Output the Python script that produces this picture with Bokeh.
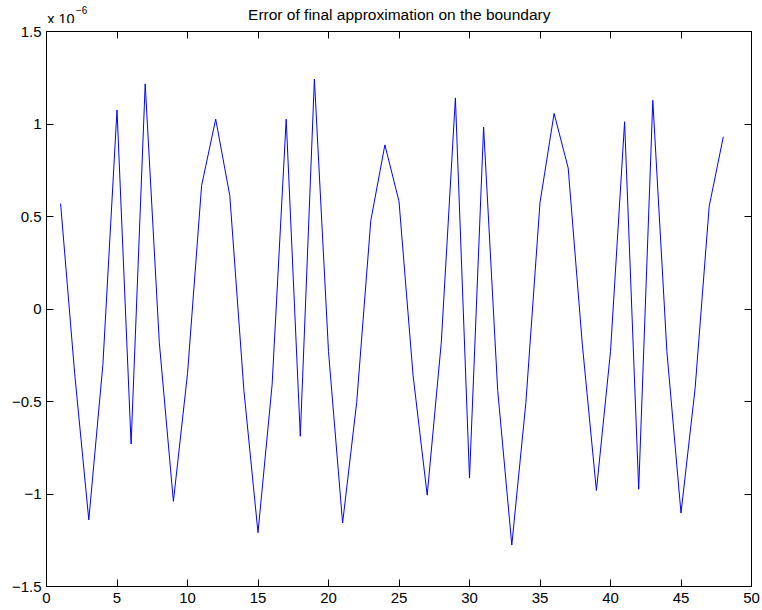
from bokeh.plotting import figure
from bokeh.layouts import column
from bokeh.models import Range1d, FixedTicker, LinearAxis, Label, CustomJSTickFormatter
from bokeh.embed import file_html
from bokeh.resources import INLINE

# Boundary point index
idx = list(range(1, 49))
# Error values, in units of 1e-6
err = [0.57, -0.35, -1.14, -0.30, 1.076, -0.73, 1.217, -0.18, -1.04, -0.35,
       0.667, 1.026, 0.613, -0.44, -1.209, -0.41, 1.026, -0.688, 1.243, -0.23,
       -1.157, -0.505, 0.478, 0.887, 0.582, -0.36, -1.006, -0.18, 1.141, -0.914,
       0.983, -0.44, -1.276, -0.505, 0.575, 1.057, 0.762, -0.19, -0.981, -0.23,
       1.012, -0.974, 1.128, -0.23, -1.103, -0.43, 0.555, 0.931]

x_ticks = [0, 5, 10, 15, 20, 25, 30, 35, 40, 45, 50]
y_ticks = [-1.5, -1.0, -0.5, 0.0, 0.5, 1.0, 1.5]

title_text = "Error of final approximation on the boundary"
scale_text = "x 10"
scale_exp = "\u22126"
FONT = "Liberation Sans"

W = 762
HEAD_H = 23
MAIN_H = 587

# ---- header strip holding the title and the axis multiplier ----
head = figure(width=W, height=HEAD_H, x_range=Range1d(0, 1), y_range=Range1d(0, 1),
              output_backend="svg", toolbar_location=None,
              x_axis_location=None, y_axis_location=None,
              min_border=0, min_border_left=0, min_border_right=0,
              min_border_top=0, min_border_bottom=0)
head.grid.visible = False
head.outline_line_color = None
head.background_fill_color = "white"
head.border_fill_color = "white"

# screen units are measured from the bottom-left of the header's frame,
# which the column aligns with the main plot's frame
head.add_layout(Label(x=352.8, y=9.2, x_units="screen", y_units="screen",
                      text=title_text, text_align="center", text_baseline="alphabetic",
                      text_font=FONT, text_font_size="15.5px", text_color="black"))
head.add_layout(Label(x=0.7, y=5.0, x_units="screen", y_units="screen",
                      text=scale_text, text_align="left", text_baseline="alphabetic",
                      text_font=FONT, text_font_size="14.5px", text_color="black"))
head.add_layout(Label(x=29.5, y=13.5, x_units="screen", y_units="screen",
                      text=scale_exp, text_align="left", text_baseline="alphabetic",
                      text_font=FONT, text_font_size="10px", text_color="black"))

# ---- main plot ----
p = figure(width=W, height=MAIN_H, x_range=Range1d(0, 50), y_range=Range1d(-1.5, 1.5),
           output_backend="svg", toolbar_location=None,
           min_border_left=46, min_border_right=11, min_border_top=8, min_border_bottom=24)
p.grid.visible = False
p.outline_line_color = "black"
p.background_fill_color = "white"
p.border_fill_color = "white"

p.line(idx, err, line_color="#0000ff", line_width=1)

minus_fmt = CustomJSTickFormatter(code="return String(tick).replace('-', '\\u2212');")
blank_fmt = CustomJSTickFormatter(code="return '';")


def style_axis(ax, ticks, show_labels=True):
    ax.ticker = FixedTicker(ticks=ticks)
    ax.minor_tick_line_color = None
    ax.major_tick_in = 7
    ax.major_tick_out = 0
    ax.major_tick_line_color = "black"
    ax.axis_line_color = "black"
    ax.major_label_text_font = FONT
    ax.major_label_text_color = "black"
    if show_labels:
        ax.formatter = minus_fmt
        ax.major_label_text_font_size = "15px"
        ax.major_label_standoff = 5
    else:
        ax.formatter = blank_fmt
        ax.major_label_text_font_size = "0px"
        ax.major_label_standoff = 0


style_axis(p.xaxis[0], x_ticks)
p.xaxis[0].major_label_standoff = 6
style_axis(p.yaxis[0], y_ticks)

top_ax = LinearAxis()
style_axis(top_ax, x_ticks, show_labels=False)
p.add_layout(top_ax, "above")
right_ax = LinearAxis()
style_axis(right_ax, y_ticks, show_labels=False)
p.add_layout(right_ax, "right")

layout = column(head, p, spacing=0)

open("out.html", "w").write(file_html(layout, INLINE))
